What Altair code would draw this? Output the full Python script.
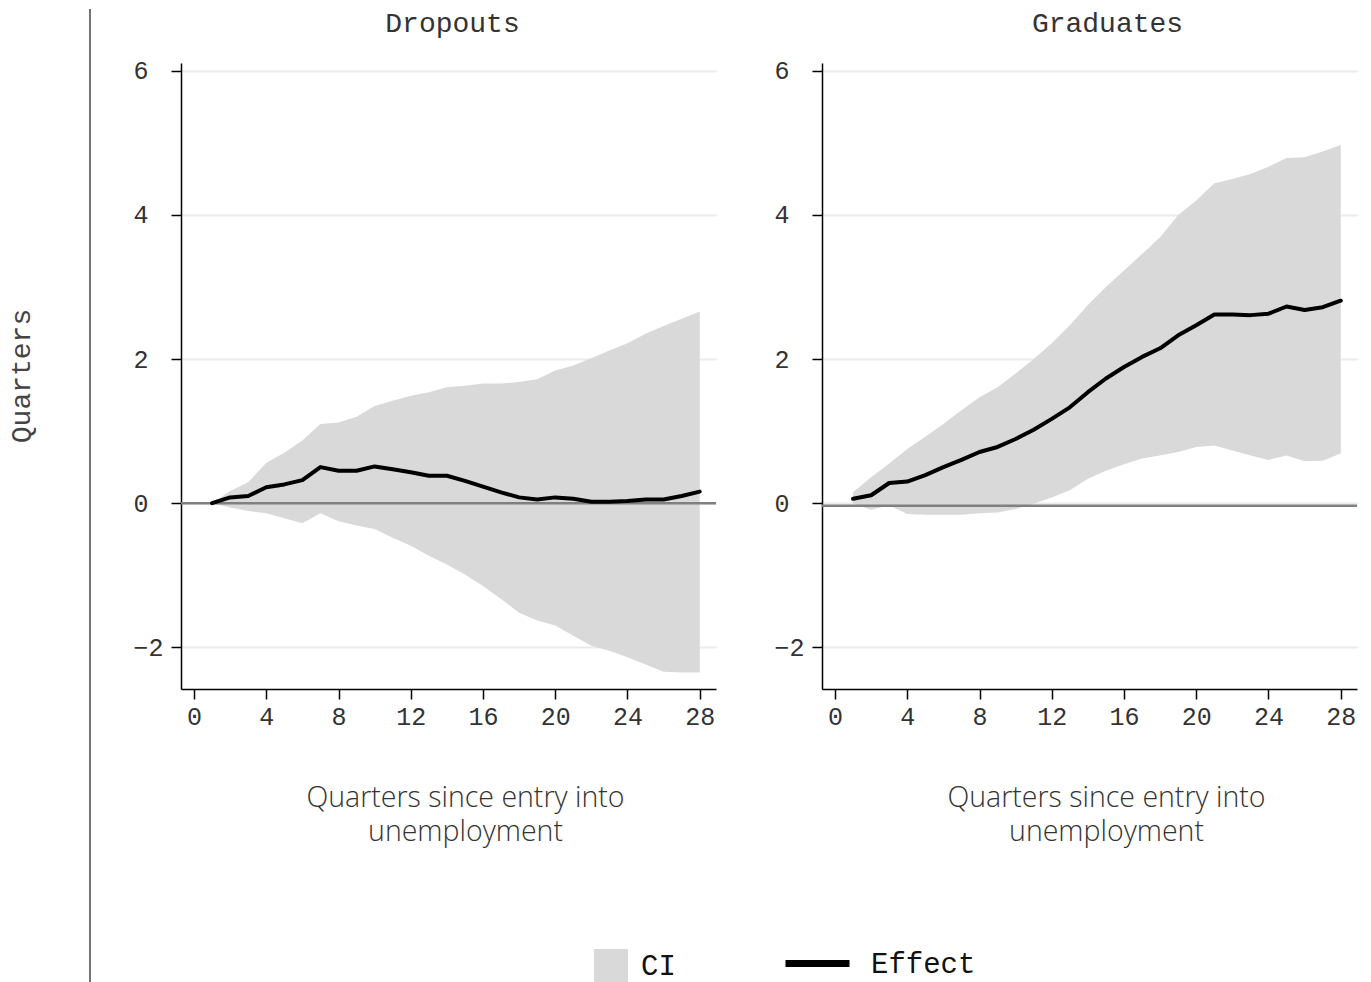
import altair as alt
import pandas as pd

# ---------------- data ----------------
quarters = list(range(1, 29))

drop_effect = [0.00, 0.08, 0.10, 0.22, 0.26, 0.32, 0.50, 0.45, 0.45, 0.51,
               0.47, 0.43, 0.38, 0.38, 0.31, 0.23, 0.15, 0.08, 0.05, 0.08,
               0.06, 0.02, 0.02, 0.03, 0.05, 0.05, 0.10, 0.16]
drop_upper = [0.00, 0.17, 0.29, 0.56, 0.70, 0.87, 1.10, 1.12, 1.20, 1.35,
              1.42, 1.49, 1.54, 1.61, 1.63, 1.66, 1.66, 1.68, 1.72, 1.84,
              1.91, 2.01, 2.12, 2.22, 2.35, 2.46, 2.56, 2.66]
drop_lower = [0.00, -0.06, -0.11, -0.14, -0.21, -0.28, -0.14, -0.25, -0.31, -0.36,
              -0.48, -0.59, -0.73, -0.85, -0.99, -1.15, -1.33, -1.52, -1.63, -1.70,
              -1.84, -1.98, -2.05, -2.14, -2.24, -2.34, -2.35, -2.35]

grad_effect = [0.06, 0.11, 0.28, 0.30, 0.39, 0.50, 0.60, 0.71, 0.78, 0.89,
               1.02, 1.17, 1.33, 1.54, 1.73, 1.89, 2.03, 2.15, 2.33, 2.47,
               2.62, 2.62, 2.61, 2.63, 2.73, 2.68, 2.72, 2.81]
grad_upper = [0.15, 0.36, 0.55, 0.75, 0.92, 1.10, 1.29, 1.47, 1.61, 1.80,
              2.00, 2.22, 2.47, 2.75, 3.00, 3.23, 3.46, 3.69, 4.00, 4.20,
              4.44, 4.50, 4.57, 4.67, 4.79, 4.80, 4.88, 4.97]
grad_lower = [-0.01, -0.09, -0.03, -0.15, -0.16, -0.16, -0.16, -0.14, -0.13, -0.08,
              -0.01, 0.08, 0.18, 0.34, 0.45, 0.54, 0.62, 0.66, 0.71, 0.78,
              0.80, 0.73, 0.66, 0.60, 0.66, 0.58, 0.59, 0.69]

panels = ["Dropouts", "Graduates"]
zero_levels = [0.0, -0.035]
x_ticks = [0, 4, 8, 12, 16, 20, 24, 28]
y_ticks = [-2, 0, 2, 4, 6]
x_title = ["Quarters since entry into", "unemployment"]
y_title = "Quarters"
legend_labels = ["CI", "Effect"]

# ---------------- tables ----------------
rows = []
for name, eff, lo, hi in [("Dropouts", drop_effect, drop_lower, drop_upper),
                          ("Graduates", grad_effect, grad_lower, grad_upper)]:
    for q, e, l, h in zip(quarters, eff, lo, hi):
        rows.append({"panel": name, "q": q, "effect": e, "lower": l, "upper": h,
                     "ci": legend_labels[0], "eff": legend_labels[1]})
df = pd.DataFrame(rows)
zero_df = pd.DataFrame({"panel": panels, "level": zero_levels})

MONO = "Liberation Mono"
SANS = "Open Sans"

x_scale = alt.Scale(domain=[-0.72, 28.9], nice=False, zero=False)
y_scale = alt.Scale(domain=[-2.58, 6.11], nice=False, zero=False)
x_axis = alt.Axis(values=x_ticks, title=x_title, grid=False)
y_axis = alt.Axis(values=y_ticks, title=None, grid=True)

fill_legend = alt.Legend(title=None, orient="none", legendX=586, legendY=886,
                         symbolType="square", symbolSize=1156, symbolStrokeWidth=0,
                         labelOffset=13, labelFont=MONO, labelFontSize=29,
                         labelColor="#111111", padding=0)
stroke_legend = alt.Legend(title=None, orient="none", legendX=774, legendY=865,
                           symbolType="stroke", symbolSize=4096, symbolStrokeWidth=7,
                           labelOffset=18, labelFont=MONO, labelFontSize=29,
                           labelColor="#111111", padding=0)


def make_panel(name, title_dx):
    base = alt.Chart(df).transform_filter(alt.datum.panel == name)
    band = base.mark_area(opacity=1).encode(
        x=alt.X("q:Q", scale=x_scale, axis=x_axis),
        y=alt.Y("lower:Q", scale=y_scale, axis=y_axis),
        y2="upper:Q",
        fill=alt.Fill("ci:N", scale=alt.Scale(domain=["CI"], range=["#d9d9d9"]),
                      legend=fill_legend),
    )
    zero = alt.Chart(zero_df).transform_filter(alt.datum.panel == name).mark_rule(
        color="#808080", strokeWidth=2.5
    ).encode(y=alt.Y("level:Q", scale=y_scale, axis=y_axis))
    line = base.mark_line(strokeWidth=4, strokeJoin="round", strokeCap="round").encode(
        x=alt.X("q:Q", scale=x_scale, axis=x_axis),
        y=alt.Y("effect:Q", scale=y_scale, axis=y_axis),
        stroke=alt.Stroke("eff:N", scale=alt.Scale(domain=["Effect"], range=["#000000"]),
                          legend=stroke_legend),
    )
    return alt.layer(band, zero, line).properties(
        width=535, height=626,
        title=alt.TitleParams(name, dx=title_dx, offset=-1, baseline="alphabetic",
                              font=MONO, fontSize=28, fontWeight="normal", color="#333333"),
    )


side_data = pd.DataFrame({"k": [0]})
sep = alt.Chart(side_data).mark_rule(color="#444444", strokeWidth=1.5).encode(
    x=alt.value(82), y=alt.value(-54), y2=alt.value(920)
)
ytxt = alt.Chart(side_data).mark_text(
    text=y_title, angle=270, font=MONO, fontSize=28, color="#444444",
    align="center", baseline="middle"
).encode(x=alt.value(14), y=alt.value(313))
side = alt.layer(sep, ytxt).properties(width=67, height=626)

p1 = make_panel("Dropouts", 4)
p2 = make_panel("Graduates", 18)

chart = (
    alt.hconcat(side, p1, p2, spacing=106, bounds="flush")
    .resolve_scale(fill="shared", stroke="shared")
    .properties(padding=0)
    .configure_view(strokeWidth=0)
    .configure_axis(
        domainColor="#000000", domainWidth=1.5, tickColor="#000000", tickWidth=1.5,
        tickSize=10, labelFont=MONO, labelFontSize=25, labelColor="#333333",
        gridColor="#999999", gridOpacity=0.2, gridWidth=2, zindex=1,
        titleFont=SANS, titleFontSize=28.5, titleFontWeight=300, titleColor="#333333",
        titleLineHeight=34,
    )
    .configure_axisX(labelPadding=5, titleX=284, titleY=94, titleBaseline="top",
                     titleAlign="center")
    .configure_axisY(labelAlign="left", labelPadding=38, labelBaseline="middle")
)

chart.save("out.html", embed_options={"renderer": "svg", "actions": False})
